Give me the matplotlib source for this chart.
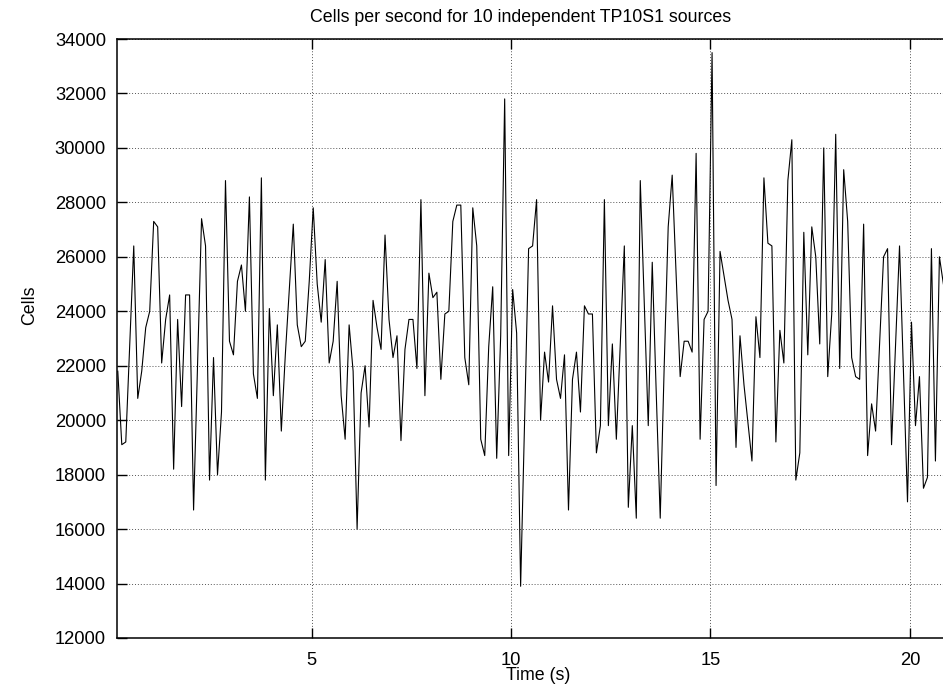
import matplotlib
matplotlib.use("Agg")
import matplotlib.pyplot as plt
import numpy as np

plt.rcParams['font.family'] = ['Liberation Sans', 'DejaVu Sans']

title = "Cells per second for 10 independent TP10S1 sources"
xlabel = "Time (s)"
ylabel = "Cells"

cells = [
    21800, 19100, 19200, 22800, 26400, 20800, 21800, 23400, 24000, 27300,
    27100, 22100, 23700, 24600, 18200, 23700, 20500, 24600, 24600, 16700,
    22000, 27400, 26400, 17800, 22300, 18000, 20300, 28800, 22900, 22400,
    25100, 25700, 24000, 28200, 21700, 20800, 28900, 17800, 24100, 20900,
    23500, 19600, 22400, 24800, 27200, 23500, 22700, 22900, 25100, 27800,
    25000, 23600, 25900, 22100, 22900, 25100, 20900, 19300, 23500, 21800,
    16000, 21000, 22000, 19750, 24400, 23400, 22600, 26800, 23700, 22300,
    23100, 19250, 22600, 23700, 23700, 21900, 28100, 20900, 25400, 24500,
    24700, 21500, 23900, 24000, 27300, 27900, 27900, 22300, 21300, 27800,
    26400, 19300, 18700, 22700, 24900, 18600, 23100, 31800, 18700, 24800,
    23200, 13900, 20000, 26300, 26400, 28100, 20000, 22500, 21400, 24200,
    21500, 20800, 22400, 16700, 21500, 22500, 20300, 24200, 23900, 23900,
    18800, 19800, 28100, 19800, 22800, 19300, 22900, 26400, 16800, 19800,
    16400, 28800, 24300, 19800, 25800, 21000, 16400, 22000, 27100, 29000,
    25300, 21600, 22900, 22900, 22500, 29800, 19300, 23700, 24000, 33500,
    17600, 26200, 25300, 24400, 23700, 19000, 23100, 21300, 19900, 18500,
    23800, 22300, 28900, 26500, 26400, 19200, 23300, 22100, 28800, 30300,
    17800, 18800, 26900, 22400, 27100, 26000, 22800, 30000, 21600, 23900,
    30500, 21900, 29200, 27300, 22300, 21600, 21500, 27200, 18700, 20600,
    19600, 22800, 26000, 26300, 19100, 22800, 26400, 21700, 17000, 23600,
    19800, 21600, 17500, 17900, 26300, 18500, 26000, 25000,
]
t_start = 0.14
t_step = 0.1
time_s = t_start + t_step * np.arange(len(cells))

xticks = [5, 10, 15, 20]
yticks = [12000, 14000, 16000, 18000, 20000, 22000, 24000, 26000, 28000, 30000, 32000, 34000]

W, H = 943, 689
fig = plt.figure(figsize=(W / 100, H / 100), dpi=100)
left_px, right_px, top_px, bot_px = 117, 943, 39, 638
ax = fig.add_axes([left_px / W, 1 - bot_px / H, (right_px - left_px) / W, (bot_px - top_px) / H])

ax.plot(time_s, cells, color='black', linewidth=0.8)

ax.set_xlim(0.12, 20.83)
ax.set_ylim(12000, 34000)
ax.set_xticks(xticks)
ax.set_yticks(yticks)
ax.set_xticklabels([str(v) for v in xticks])
ax.set_yticklabels([str(v) for v in yticks])
ax.tick_params(direction='in', length=7, width=1, labelsize=13.2, top=True, right=False)
ax.tick_params(axis='x', pad=10)
ax.tick_params(axis='y', pad=8)
ax.grid(True, linestyle=(0, (1, 2)), color='#555555', linewidth=0.7)
for s in ['left', 'bottom', 'top']:
    ax.spines[s].set_linewidth(1.1)
ax.spines['right'].set_visible(False)

fig.text(521 / W, 1 - 18 / H, title, ha='center', va='center', fontsize=12.8)
fig.text(538 / W, 1 - 676 / H, xlabel, ha='center', va='center', fontsize=12.8)
fig.text(30 / W, 1 - 305 / H, ylabel, ha='center', va='center', rotation=90, fontsize=12.8)

fig.savefig('out.png', dpi=100)
